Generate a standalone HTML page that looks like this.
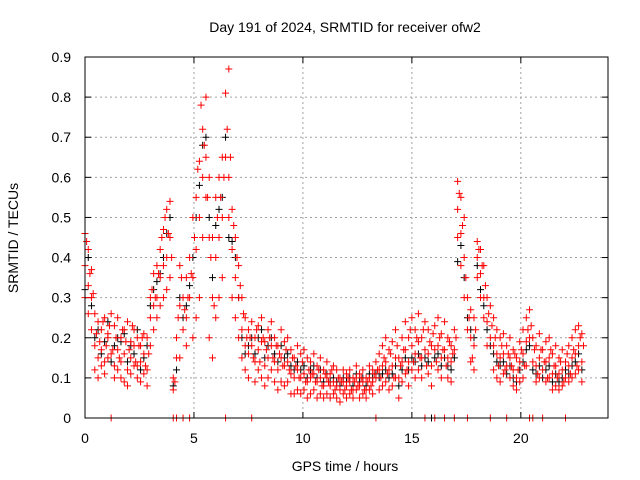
<!DOCTYPE html>
<html>
<head>
<meta charset="utf-8">
<style>
  html, body { margin: 0; padding: 0; background: #fff; }
  svg { display: block; font-family: "Liberation Sans", "DejaVu Sans", sans-serif; }
</style>
</head>
<body>
<svg id="chart" width="640" height="480" viewBox="0 0 640 480">
  <rect x="0" y="0" width="640" height="480" fill="#fff"/>
  <text x="345" y="32" font-size="14" text-anchor="middle" fill="#000">Day 191 of 2024, SRMTID for receiver ofw2</text>
  <text x="345" y="471" font-size="14" text-anchor="middle" fill="#000">GPS time / hours</text>
  <text x="18" y="238" font-size="14" text-anchor="middle" fill="#000" transform="rotate(-90 18 238)">SRMTID / TECUs</text>
  <g id="grid"></g>
  <g id="axes"></g>
  <g id="black-series"></g>
  <g id="red-series"></g>
  <rect x="85" y="57" width="523" height="361" fill="none" stroke="#000" stroke-width="1"/>
</svg>
<script>
// ---- chart data ----
const yTicks = [0, 0.1, 0.2, 0.3, 0.4, 0.5, 0.6, 0.7, 0.8, 0.9];
const yTickLabels = ["0", "0.1", "0.2", "0.3", "0.4", "0.5", "0.6", "0.7", "0.8", "0.9"];
const xTicks = [0, 5, 10, 15, 20];
const xTickLabels = ["0", "5", "10", "15", "20"];
const sampleStep = 0.15; // hours between samples
const redUpper = [0.46,0.42,0.37,0.26,0.24,0.22,0.25,0.21,0.26,0.23,
0.25,0.2,0.22,0.24,0.19,0.22,0.2,0.18,0.21,0.2,
0.3,0.36,0.38,0.42,0.47,0.52,0.54,0.1,0.2,0.38,
0.3,0.35,0.4,0.5,0.55,0.64,0.72,0.8,0.6,0.45,
0.55,0.6,0.65,0.81,0.87,0.52,0.45,0.38,0.3,0.25,
0.22,0.24,0.2,0.23,0.25,0.19,0.22,0.24,0.2,0.18,
0.22,0.19,0.2,0.17,0.15,0.18,0.16,0.17,0.15,0.14,
0.16,0.13,0.15,0.12,0.14,0.11,0.13,0.12,0.1,0.12,
0.11,0.12,0.1,0.13,0.11,0.12,0.1,0.13,0.12,0.14,
0.16,0.18,0.2,0.17,0.19,0.22,0.15,0.2,0.24,0.2,
0.25,0.22,0.26,0.2,0.24,0.22,0.18,0.23,0.25,0.21,
0.24,0.2,0.18,0.22,0.59,0.55,0.5,0.3,0.27,0.25,
0.44,0.42,0.38,0.3,0.28,0.25,0.22,0.2,0.21,0.18,
0.2,0.17,0.15,0.19,0.22,0.25,0.27,0.2,0.18,0.21,
0.17,0.19,0.2,0.16,0.18,0.15,0.17,0.14,0.18,0.2,
0.22,0.23,0.21];
const redMid = [0.38,0.33,0.3,0.18,0.15,0.17,0.14,0.2,0.16,0.13,
0.17,0.14,0.16,0.12,0.15,0.18,0.13,0.14,0.16,0.12,
0.25,0.28,0.3,0.35,0.38,0.4,0.45,0.07,0.15,0.28,
0.22,0.25,0.3,0.35,0.42,0.5,0.6,0.65,0.45,0.3,
0.4,0.45,0.5,0.65,0.6,0.42,0.35,0.3,0.22,0.18,
0.16,0.18,0.14,0.17,0.19,0.13,0.15,0.18,0.14,0.12,
0.15,0.13,0.14,0.11,0.1,0.12,0.1,0.11,0.09,0.1,
0.11,0.09,0.1,0.08,0.1,0.08,0.09,0.08,0.07,0.09,
0.08,0.09,0.07,0.1,0.08,0.09,0.07,0.1,0.09,0.1,
0.12,0.13,0.14,0.12,0.13,0.15,0.1,0.14,0.17,0.14,
0.18,0.16,0.19,0.15,0.17,0.16,0.13,0.17,0.18,0.15,
0.17,0.15,0.14,0.17,0.52,0.46,0.4,0.22,0.2,0.18,
0.4,0.36,0.3,0.24,0.2,0.18,0.16,0.15,0.16,0.13,
0.15,0.12,0.1,0.14,0.16,0.19,0.2,0.14,0.13,0.15,
0.12,0.14,0.15,0.11,0.13,0.11,0.12,0.1,0.13,0.15,
0.16,0.18,0.14];
const redLow = [0.3,0.26,0.22,0.12,0.1,0.13,0.11,0.15,0,0.1,
0.12,0.1,0.09,0.08,0.11,0.13,0.1,0.09,0.11,0.08,
0.18,0.22,0.25,0.28,0.3,0.32,0.35,0,0,0.15,
0,0.18,0,0.2,0.25,0.3,0.45,0.55,0.2,0.15,
0.25,0.3,0.35,0,0.5,0.3,0.25,0.2,0.15,0.12,
0.1,0,0.09,0.12,0.1,0.08,0.1,0.12,0.09,0.07,
0.09,0.08,0.09,0.06,0.06,0.07,0.06,0.07,0.05,0.06,
0.07,0.05,0.06,0.05,0.06,0.05,0.06,0.05,0.04,0.06,
0.05,0.06,0.05,0.07,0.05,0.06,0.05,0.07,0.06,0,
0.07,0.08,0.09,0.07,0.08,0.1,0.05,0.09,0.11,0.08,
0.12,0.1,0.12,0.1,0,0.11,0.08,0,0.12,0.1,
0,0.1,0.09,0,0.45,0.38,0.3,0,0.14,0.12,
0.35,0.3,0.25,0.18,0,0.12,0.1,0.09,0.11,0,
0.1,0.08,0.07,0.09,0.1,0.13,0,0,0.09,0.1,
0,0.09,0.1,0.07,0.08,0.07,0.08,0,0.09,0.1,
0.11,0.12,0.09];
// samples taken half a step later
const redOffset = [0.44,0.36,0.31,0.21,0.19,0.24,0.18,0.23,0.17,0.2,
0.15,0.22,0.19,0.17,0.23,0.14,0.18,0.2,0.13,0.16,
0.32,0.3,0.36,0.45,0.5,0.46,0.4,0.09,0.25,0.35,
0.27,0.3,0.36,0.45,0.62,0.78,0.68,0.55,0.4,0.28,
0.5,0.55,0.6,0.72,0.65,0.48,0.4,0.33,0.26,0.2,
0.2,0.15,0.22,0.14,0.2,0.17,0.2,0.15,0.18,0.16,
0.13,0.17,0.12,0.15,0.13,0.1,0.14,0.09,0.12,0.11,
0.09,0.12,0.08,0.11,0.09,0.12,0.07,0.1,0.09,0.07,
0.1,0.07,0.09,0.08,0.1,0.07,0.09,0.08,0.11,0.12,
0.1,0.15,0.11,0.16,0.1,0.18,0.13,0.17,0.12,0.22,
0.14,0.2,0.15,0.22,0.13,0.19,0.21,0.14,0.2,0.17,
0.13,0.19,0.16,0.2,0.56,0.48,0.35,0.25,0.15,0.22,
0.42,0.38,0.33,0.26,0.23,0.2,0.13,0.18,0.12,0.16,
0.13,0.16,0.12,0.17,0.13,0.22,0.23,0.17,0.11,0.17,
0.14,0.1,0.17,0.13,0.1,0.14,0.09,0.16,0.11,0.17,
0.13,0.2,0.18];
const blackSeries = [0.32,0.4,0.28,0.2,0.22,0.16,0.19,0.24,0.14,0.18,
0.2,0.19,0.21,0.14,0.18,0.16,0.22,0.12,0.15,0.18,
0.28,0.32,0.34,0.36,0.4,0.46,0.5,0.08,0.12,0.3,
0.25,0.28,0.33,0.4,0.5,0.58,0.68,0.7,0.5,0.35,
0.48,0.52,0.55,0.7,0.45,0.44,0.4,0.3,0.2,0.16,
0.18,0.2,0.16,0.2,0.22,0.15,0.18,0.2,0.16,0.14,
0.18,0.15,0.16,0.13,0.12,0.14,0.12,0.13,0.1,0.12,
0.13,0.1,0.12,0.09,0.11,0.09,0.1,0.09,0.08,0.1,
0.09,0.1,0.08,0.11,0.09,0.1,0.08,0.11,0.1,0.11,
0.1,0.11,0.12,0.1,0.11,0.13,0.08,0.12,0.15,0.12,
0.15,0.14,0.16,0.13,0.15,0.14,0,0.15,0.16,0.13,
0.15,0.13,0.12,0.15,0.39,0.43,0.35,0.25,0.22,0.2,
0.38,0.32,0.28,0.22,0.18,0.16,0.14,0.13,0.14,0.11,
0.13,0.1,0.09,0.12,0.14,0.17,0.18,0.12,0.11,0.13,
0.1,0.12,0.13,0.09,0.11,0.09,0.1,0.12,0.11,0.13,
0.14,0.16,0.12];

// ---- axis functions ----
const X0 = 85, X1 = 608, Y0 = 418, Y1 = 57;
const xMin = 0, xMax = 24, yMin = 0, yMax = 0.9;
function xScale(h) { return X0 + (h - xMin) / (xMax - xMin) * (X1 - X0); }
function yScale(v) { return Y0 - (v - yMin) / (yMax - yMin) * (Y0 - Y1); }
const NS = "http://www.w3.org/2000/svg";
function mk(tag, attrs, parent) {
  const e = document.createElementNS(NS, tag);
  for (const k in attrs) e.setAttribute(k, attrs[k]);
  parent.appendChild(e);
  return e;
}
const grid = document.getElementById("grid");
const axes = document.getElementById("axes");

yTicks.forEach((v, i) => {
  const y = yScale(v);
  if (i > 0 && i < yTicks.length - 1) {
    const gl = mk("line", {x1: X0, x2: X1, y1: y, y2: y, stroke: "#a0a0a0", "stroke-width": 1, "stroke-dasharray": "2,3"}, grid);
    
    
  }
  const t1 = mk("line", {x1: X0, x2: X0 + 6, y1: y, y2: y, stroke: "#000"}, axes);
  
  
  const t2 = mk("line", {x1: X1, x2: X1 - 6, y1: y, y2: y, stroke: "#000"}, axes);
  
  
  const lb = mk("text", {x: 71, y: y + 5, "font-size": 14, "text-anchor": "end", fill: "#000"}, axes);
  lb.textContent = yTickLabels[i];
  
  
});
xTicks.forEach((h, i) => {
  const x = xScale(h);
  if (i > 0) {
    const gl = mk("line", {x1: x, x2: x, y1: Y1, y2: Y0, stroke: "#a0a0a0", "stroke-width": 1, "stroke-dasharray": "2,3"}, grid);
    
    
  }
  const t1 = mk("line", {x1: x, x2: x, y1: Y0, y2: Y0 - 6, stroke: "#000"}, axes);
  
  
  const t2 = mk("line", {x1: x, x2: x, y1: Y1, y2: Y1 + 6, stroke: "#000"}, axes);
  
  
  const lb = mk("text", {x: x, y: 443, "font-size": 14, "text-anchor": "middle", fill: "#000"}, axes);
  lb.textContent = xTickLabels[i];
  
  
});

function drawSeries(values, offset, color, parentId, name) {
  const g = document.getElementById(parentId);
  values.forEach((v, i) => {
    if (v === null) return;
    const x = xScale(i * sampleStep + offset), y = yScale(v);
    const p = mk("path", {d: `M${x-3.5},${y}H${x+3.5}M${x},${y-3.5}V${y+3.5}`, stroke: color, "stroke-width": 1, fill: "none"}, g);
    
    
  });
}
drawSeries(blackSeries, 0, "#000", "black-series", "black-point");
drawSeries(redUpper, 0, "#ff0000", "red-series", "red-point");
drawSeries(redMid, 0, "#ff0000", "red-series", "red-point");
drawSeries(redLow, 0, "#ff0000", "red-series", "red-point");
drawSeries(redOffset, sampleStep / 2, "#ff0000", "red-series", "red-point");
</script>
</body>
</html>
